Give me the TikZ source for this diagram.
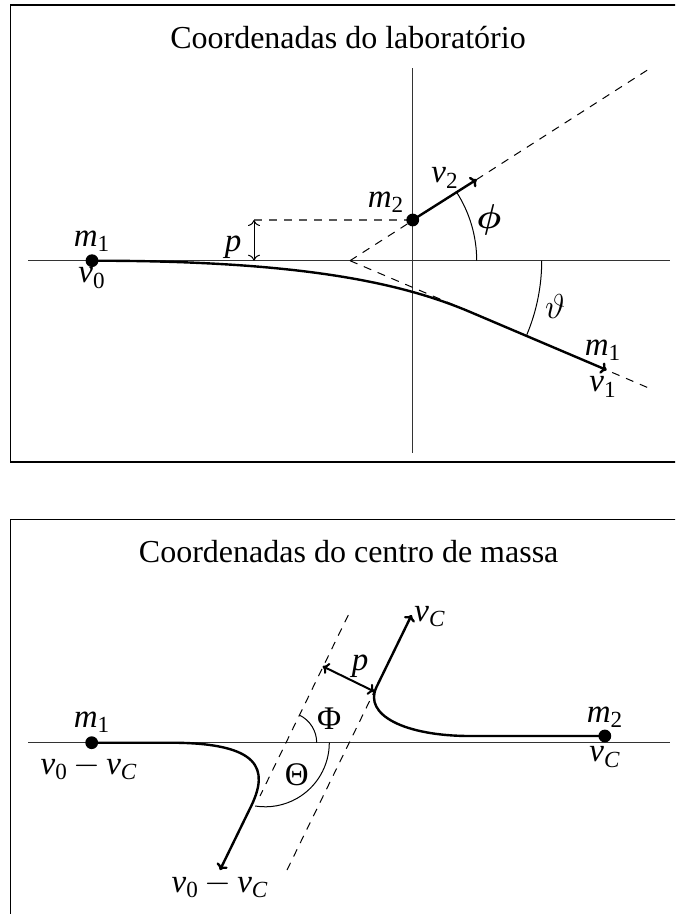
\documentclass[tikz,border=0pt]{standalone}
\usepackage{amsmath}
\usepackage{fontspec}
\setmainfont{Liberation Serif}
\usetikzlibrary{arrows.meta}
\newcommand\ms[2]{$\textit{#1}_{\text{#2}}$}
\newcommand\msi[2]{$\textit{#1}_{\textit{#2}}$}
\begin{document}
\begin{tikzpicture}[x=0.5pt,y=-0.5pt,
  axis/.style={black!80,line width=0.6pt},
  traj/.style={line width=1.2pt},
  dsh/.style={line width=0.5pt,dash pattern=on 4pt off 3.5pt},
  dotn/.style={circle,fill,inner sep=0pt,minimum size=6.4pt},
  lbl/.style={inner sep=0pt,font=\fontsize{16.5}{19}\selectfont},
  ttl/.style={inner sep=0pt,font=\fontsize{16}{19}\selectfont},
  arr/.style={-{To[length=3pt,width=6pt]}},
  darr/.style={{To[length=3pt,width=6pt]}-{To[length=3pt,width=6pt]}},
  anglearc/.style={line width=0.5pt},
  framebox/.style={line width=0.7pt}]
\useasboundingbox (0,0) rectangle (675,914);
\clip (0,0) rectangle (675,914);

% ---------------- top panel ----------------
\draw[framebox] (10.3,5) rectangle (700,462);
\node[ttl] (t1) at (348,38) {Coordenadas do laboratório};

\coordinate (ax1L) at (28,260.7);
\coordinate (ax1R) at (670,260.7);
\coordinate (ay1T) at (412.7,68.3);
\coordinate (ay1B) at (412.7,452.7);
\draw[axis] (ax1L) -- (ax1R);
\draw[axis] (ay1T) -- (ay1B);

\coordinate (V) at (350,260.7);
\coordinate (D1) at (651.7,67.3);
\coordinate (D2) at (651.7,389.3);
\draw[dsh] (V) -- (D1);
\draw[dsh] (V) -- (D2);

\coordinate (m1c) at (92,260.7);
\coordinate (m2c) at (412.7,220);
\coordinate (pT) at (254,220);
\coordinate (pB) at (254,260.7);
\draw[dsh,black!65,line width=0.7pt] (pT) -- (m2c);
\draw[darr,line width=0.5pt] (pT) -- (pB);
\node[lbl] (plab1) at (233,247) {$\textit{p}$};

\coordinate (J) at (470,311.9);
\coordinate (T1) at (606.7,370);
\draw[traj,arr] (m1c) .. controls (292,260.7) and (396.4,280.6) .. (J) -- (T1);
\coordinate (V2) at (476.7,179.5);
\draw[traj,arr] (m2c) -- (V2);
\node[dotn] (m1) at (m1c) {};
\node[dotn] (m2) at (m2c) {};

\coordinate (phiS) at (476.7,260.7);
\draw[anglearc] (phiS) arc[start angle=0,end angle=-33,radius=126.7];
\coordinate (thS) at (541.7,260.7);
\draw[anglearc] (thS) arc[start angle=0,end angle=22.7,radius=191.7];

\node[lbl] (lm1) at (92,241) {\ms{m}{1}};
\node[lbl] (lv0) at (92,278) {\ms{v}{0}};
\node[lbl] (lm2) at (386,202) {\ms{m}{2}};
\node[lbl] (lv2) at (445,178) {\ms{v}{2}};
\node[lbl] (lphi) at (489,220) {$\boldsymbol{\phi}$};
\node[lbl] (lth) at (555,307) {$\vartheta$};
\node[lbl] (lm1b) at (603,350) {\ms{m}{1}};
\node[lbl] (lv1) at (603,387) {\ms{v}{1}};

% ---------------- bottom panel ----------------
\draw[framebox] (10.3,519.3) rectangle (700,960);
\node[ttl] (t2) at (348.7,552) {Coordenadas do centro de massa};

\coordinate (ax2L) at (28,742.7);
\coordinate (ax2R) at (670,742.7);
\draw[axis] (ax2L) -- (ax2R);

\coordinate (L1T) at (348.3,615);
\coordinate (L1B) at (260,796);
\coordinate (L2T) at (374.5,691);
\coordinate (L2B) at (287,870);
\draw[dsh] (L1T) -- (L1B);
\draw[dsh] (L2B) -- (L2T);

\coordinate (n1c) at (91.7,742.7);
\coordinate (n2c) at (604.8,736);
\coordinate (A2) at (470,736);
\coordinate (J2) at (376.5,687);
\coordinate (T2) at (411.6,615);
\coordinate (A1) at (170,742.7);
\coordinate (J1) at (251.7,805);
\coordinate (T3) at (220,870);
\draw[traj,arr] (n2c) -- (A2) .. controls (405,736) and (363,715) .. (J2) -- (T2);
\draw[traj,arr] (n1c) -- (A1) .. controls (262,742.7) and (268,770) .. (J1) -- (T3);
\node[dotn] (n1) at (n1c) {};
\node[dotn] (n2) at (n2c) {};

\coordinate (pa) at (322.7,666.3);
\coordinate (pb) at (374.3,691.5);
\draw[darr,line width=1pt] (pa) -- (pb);
\node[lbl] (plab2) at (360,666.7) {$\textit{p}$};

\coordinate (PhiS) at (316.7,742.7);
\draw[anglearc] (PhiS) arc[start angle=0,end angle=-64,radius=30.7];
\coordinate (ThS) at (329.3,742.7);
\draw[anglearc] (ThS) arc[start angle=0,end angle=99,radius=64.1];

\node[lbl] (lPhi) at (329.3,718.3) {Φ};
\node[lbl] (lTh) at (296.7,775) {Θ};
\node[lbl] (ln1) at (92,722) {\ms{m}{1}};
\node[lbl] (lw1) at (89,767) {\ms{v}{0}$\,-\,$\msi{v}{C}};
\node[lbl] (ln2) at (605,717) {\ms{m}{2}};
\node[lbl] (lw2) at (605,757) {\msi{v}{C}};
\node[lbl] (lvc) at (430,616.7) {\msi{v}{C}};
\node[lbl] (lw3) at (220,885) {\ms{v}{0}$\,-\,$\msi{v}{C}};
\end{tikzpicture}
\end{document}
